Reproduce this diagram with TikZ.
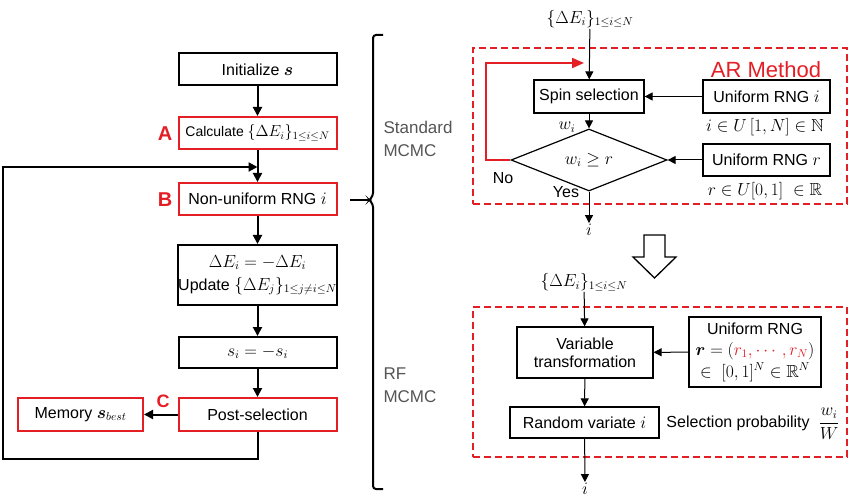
\RequirePackage{fix-cm}
\documentclass[tikz,border=0pt]{standalone}
\usepackage{amsmath,amssymb}
\usepackage{fontspec}
\setmainfont{Liberation Sans}
\DeclareMathSizes{16}{17.5}{11.5}{9}
\DeclareMathSizes{14}{16}{11}{8}
\usetikzlibrary{arrows.meta,shapes.geometric}
\definecolor{arred}{RGB}{228,30,37}
\definecolor{txgray}{RGB}{85,85,85}
\begin{document}
\begin{tikzpicture}[x=1pt,y=-1pt,font=\fontsize{16}{19}\selectfont,
 lbox/.style={draw, line width=2pt, minimum width=158pt, minimum height=32pt, inner sep=0pt, align=center},
 redb/.style={draw=arred},
 rbox/.style={draw, line width=1.2pt, inner sep=0pt, align=center},
 larr/.style={line width=2pt, -{Triangle[length=9pt,width=9pt]}},
 rarr/.style={line width=1pt, -{Triangle[length=8pt,width=8pt]}},
 lbl/.style={inner sep=1pt},
 tag/.style={text=arred, font=\fontsize{20}{22}\selectfont\bfseries},
 dbox/.style={draw=arred, line width=2pt, dash pattern=on 7pt off 4pt, inner sep=0pt},
 side/.style={text=txgray, font=\fontsize{17}{23}\selectfont, align=left, anchor=west}
]
\useasboundingbox (0,0) rectangle (850,502);

% ---------- left flow ----------
\node[lbox] (init) at (257.5,69.5) {Initialize $\boldsymbol{s}$};
\node[lbox,redb,font=\fontsize{14}{17}\selectfont] (calc) at (257.5,133) {Calculate $\{\Delta E_i\}_{1\le i\le N}$};
\node[lbox,redb] (nurng) at (257.5,199) {Non-uniform RNG $i$};
\node[lbox,minimum height=60pt] (upd) at (257.5,275) {$\Delta E_i=-\Delta E_i$\\[4pt] Update $\{\Delta E_j\}_{1\le j\ne i\le N}$};
\node[lbox,minimum height=31pt] (flip) at (257.5,352.5) {$s_i=-s_i$};
\node[lbox,redb,minimum height=33pt] (post) at (257.5,414.5) {Post-selection};
\node[lbox,redb,minimum width=125pt,minimum height=33pt] (mem) at (80.5,414.5) {Memory $\boldsymbol{s}_{best}$};

\node[tag] (tA) at (165,134) {A};
\node[tag] (tB) at (165,200) {B};
\node[tag,font=\fontsize{18}{20}\selectfont\bfseries] (tC) at (163,401) {C};

\coordinate (fbM) at (257.5,167);
\coordinate (fbT) at (3,167);
\coordinate (fbL) at (3,459);
\draw[larr] (init) -- (calc);
\draw[line width=2pt] (calc) -- (fbM);
\draw[larr] (fbM) -- (nurng);
\draw[larr] (nurng) -- (upd);
\draw[larr] (upd) -- (flip);
\draw[larr] (flip) -- (post);
\draw[larr] (post) -- (mem);
\draw[larr] (post.south) |- (fbL) -- (fbT) -- (fbM);

% ---------- brace ----------
\coordinate (bs) at (350,200);
\coordinate (bt) at (369,200);
\draw[line width=2pt] (bs) -- (bt);
\draw[line width=2pt, rounded corners=3pt] (383,35) -- (373,35) -- (373,196) -- (369,200) -- (373,204) -- (373,489) -- (383,489);
\node[side] (std) at (380,139) {Standard\\MCMC};
\node[side] (rf) at (380,385) {RF\\MCMC};

% ---------- AR method ----------
\node[lbl] (d1) at (590,19) {$\{\Delta E_i\}_{1\le i\le N}$};
\node[dbox, minimum width=374pt, minimum height=156pt] (arbox) at (660,126) {};
\node[text=arred, font=\fontsize{22}{26}\selectfont] (arname) at (766,70) {AR Method};
\node[rbox, minimum width=110pt, minimum height=33pt] (spin) at (589,96.5) {Spin selection};
\node[rbox, minimum width=127pt, minimum height=33pt] (uri) at (766.5,96.5) {Uniform RNG $i$};
\node[lbl] (uril) at (765,127) {$i\in U\,[1,N]\in\mathbb{N}$};
\node[lbl] (wi) at (567,127) {$w_i$};
\node[draw, line width=1.2pt, shape=diamond, minimum width=156pt, minimum height=32pt, inner sep=0pt] (dia) at (589,160) {$w_i\ge r$};
\node[rbox, minimum width=127pt, minimum height=32pt] (urr) at (766.5,160) {Uniform RNG $r$};
\node[lbl] (urrl) at (765,191) {$r\in U[0,1]\;\in\mathbb{R}$};
\node[lbl] (no) at (503,178) {No};
\node[lbl] (yes) at (566,192) {Yes};
\node[lbl] (i1) at (589,230) {$i$};
\coordinate (rfL) at (486,160);
\coordinate (rfT) at (486,63);
\coordinate (rfE) at (584,63);
\draw[rarr] (d1) -- (spin);
\draw[rarr] (uri) -- (spin);
\draw[rarr] (spin) -- (dia);
\draw[rarr] (urr) -- (dia);
\draw[rarr] (dia) -- (i1);
\draw[line width=2pt, draw=arred, -{Triangle[length=12pt,width=10pt]}] (dia.west) -- (rfL) -- (rfT) -- (rfE);

% ---------- hollow arrow ----------
\draw[line width=1.3pt, line join=miter] (644,235) -- (665,235) -- (665,257) -- (676,257) -- (654.5,278) -- (633,257) -- (644,257) -- cycle;

% ---------- RF method ----------
\node[lbl] (d2) at (584,282) {$\{\Delta E_i\}_{1\le i\le N}$};
\node[dbox, minimum width=374pt, minimum height=150pt] (rfbox) at (660,382) {};
\node[rbox, minimum width=136pt, minimum height=51pt] (var) at (585,352.5) {Variable\\[-1pt]transformation};
\node[rbox, minimum width=132pt, minimum height=70pt, font=\fontsize{16}{19}\selectfont] (urng) at (755,352) {Uniform RNG\\[2pt] $\boldsymbol{r}=(\textcolor{arred}{r_1,\cdots,r_N})$\\[3pt] $\in\;[0,1]^N\in\mathbb{R}^N$};
\node[rbox, minimum width=149pt, minimum height=31pt] (rv) at (584.5,422.5) {Random variate $i$};
\node[lbl] (selp) at (753,424) {Selection probability\; $\dfrac{w_i}{W}$};
\node[lbl] (i2) at (585,489) {$i$};
\draw[rarr] (d2) -- (var);
\draw[rarr] (urng) -- (var);
\draw[rarr] (var) -- (rv);
\draw[rarr] (rv) -- (i2);
\end{tikzpicture}
\end{document}
